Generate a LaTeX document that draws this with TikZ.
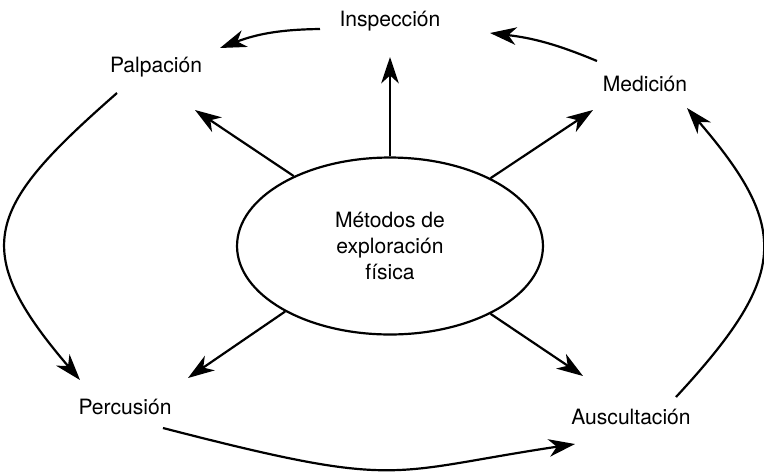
\documentclass[tikz,border=0pt]{standalone}
\usepackage{fontspec}
\setmainfont{TeX Gyre Heros}
\usetikzlibrary{arrows.meta,shapes.geometric}
\begin{document}
\begin{tikzpicture}[x=0.02cm, y=-0.02cm, >={Stealth[length=15pt,width=10pt,inset=4.5pt]},
   line width=1.25pt, every node/.style={font=\fontsize{12}{14.8}\selectfont}]

\useasboundingbox (0,0) rectangle (764,471);

\node[draw, ellipse, minimum width=6.12cm, minimum height=3.54cm, inner sep=0pt, align=center]
   (metodos) at (390,246) {Métodos de\\exploración\\física};

\node (insp) at (390,21) {Inspección};
\node (palp) at (156,67) {Palpación};
\node (medi) at (645,84) {Medición};
\node (perc) at (125,407) {Percusión};
\node (ausc) at (631,417) {Auscultación};

% ends of the arrows
\coordinate (insp-in) at (390,57);  \coordinate (palp-in) at (195,110);
\coordinate (medi-in) at (593,110); \coordinate (perc-in) at (188,378);
\coordinate (ausc-in) at (583,376);
\coordinate (insp-w) at (320,29);   \coordinate (insp-e) at (490,33);
\coordinate (palp-e) at (220,48);   \coordinate (palp-s) at (117,93);
\coordinate (medi-n) at (597,61);   \coordinate (medi-s) at (687,108);
\coordinate (perc-n) at (80,380);   \coordinate (perc-e) at (163,428);
\coordinate (ausc-w) at (575,444);  \coordinate (ausc-n) at (676,397);

\draw[->] (metodos.north) -- (insp-in);
\draw[->] (metodos.144.7) -- (palp-in);
\draw[->] (metodos.34.5) -- (medi-in);
\draw[->] (metodos.212.2) -- (perc-in);
\draw[->] (metodos.326.6) -- (ausc-in);

\draw[->] (insp-w) to[bend right=10] (palp-e);
\draw[->] (palp-s) .. controls (-13,207) and (-33,248) .. (perc-n);
\draw[->] (perc-e) .. controls (403,490) and (385,472.5) .. (ausc-w);
\draw[->] (ausc-n) .. controls (788,276) and (791,229) .. (medi-s);
\draw[->] (medi-n) to[bend right=8] (insp-e);

\end{tikzpicture}
\end{document}
